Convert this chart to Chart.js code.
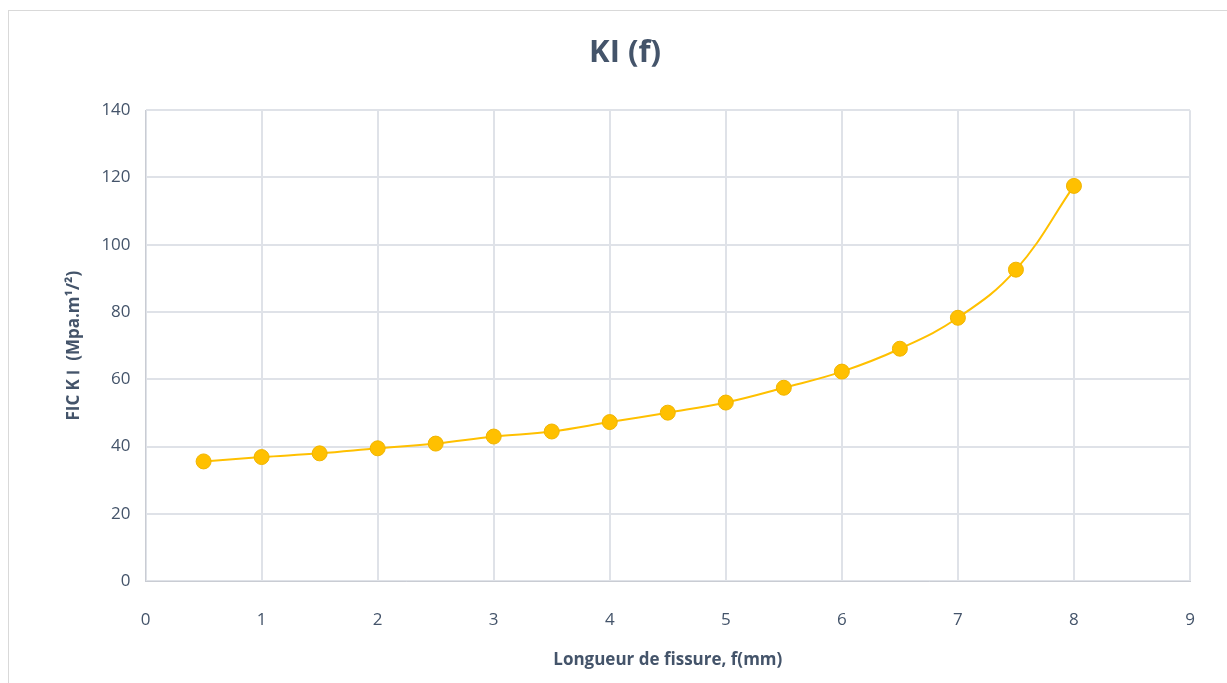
<!DOCTYPE html>
<html>
<head>
<meta charset="utf-8">
<script src="https://cdn.jsdelivr.net/npm/chart.js@4"></script>
<style>
    html, body { margin: 0; padding: 0; background: #fff; }
    #wrap { position: relative; width: 1227px; height: 683px; }
    #frame { position: absolute; left: 8px; top: 10px; width: 1230px; height: 700px; border: 1px solid #d9d9d9; pointer-events: none; }
</style>
</head>
<body>
<div id="wrap">
    <canvas id="kiChart" width="1227" height="683"></canvas>
    <div id="frame"></div>
</div>
<script>
var crackLengths = [0.5, 1, 1.5, 2, 2.5, 3, 3.5, 4, 4.5, 5, 5.5, 6, 6.5, 7, 7.5, 8];
var kiValues = [35.6, 36.9, 38.0, 39.5, 40.9, 43.0, 44.5, 47.3, 50.1, 53.1, 57.5, 62.3, 69.1, 78.3, 92.6, 117.5];
var chartTitle = 'KI (f)';
var xTitle = 'Longueur de fissure, f(mm)';
var yTitle = 'FIC K Ⅰ  (Mpa.m¹/²)';

(function () {
    'use strict';

    var textColor = '#44546a';
    var gridColor = '#dfe2e8';
    var points = crackLengths.map(function (x, i) {
        return { x: x, y: kiValues[i] };
    });

    var ctx = document.getElementById('kiChart').getContext('2d');
    new Chart(ctx, {
        type: 'scatter',
        data: {
            datasets: [{
                label: 'KI',
                data: points,
                showLine: true,
                tension: 0.4,
                borderColor: '#ffc000',
                borderWidth: 2,
                backgroundColor: '#ffc000',
                pointBorderColor: '#f0b400',
                pointBorderWidth: 1,
                pointRadius: 7.5,
                pointHoverRadius: 7.5
            }]
        },
        options: {
            responsive: false,
            animation: false,
            layout: { padding: { left: 60, right: 37, top: 0, bottom: 9 } },
            plugins: {
                legend: { display: false },
                tooltip: { enabled: false },
                title: {
                    display: true,
                    text: chartTitle,
                    color: textColor,
                    font: { family: 'Open Sans', size: 31, weight: 'bold' },
                    padding: { top: 35, bottom: 38 }
                }
            },
            scales: {
                x: {
                    type: 'linear',
                    min: 0,
                    max: 9,
                    ticks: {
                        stepSize: 1,
                        color: textColor,
                        font: { family: 'Open Sans', size: 17 },
                        padding: 29
                    },
                    grid: { color: gridColor, lineWidth: 2, drawTicks: false },
                    border: { color: '#c9ccd3', width: 1 },
                    title: {
                        display: true,
                        text: xTitle,
                        color: textColor,
                        font: { family: 'Open Sans', size: 17, weight: 'bold' },
                        padding: { top: -10 }
                    }
                },
                y: {
                    min: 0,
                    max: 140,
                    ticks: {
                        stepSize: 20,
                        color: textColor,
                        font: { family: 'Open Sans', size: 17 },
                        padding: 15
                    },
                    grid: { color: gridColor, lineWidth: 2, drawTicks: false },
                    border: { color: '#c9ccd3', width: 1 },
                    title: {
                        display: true,
                        text: yTitle,
                        color: textColor,
                        font: { family: 'Open Sans', size: 17, weight: 'bold' },
                        padding: { bottom: 2 }
                    }
                }
            }
        }
    });
})();
</script>
</body>
</html>
